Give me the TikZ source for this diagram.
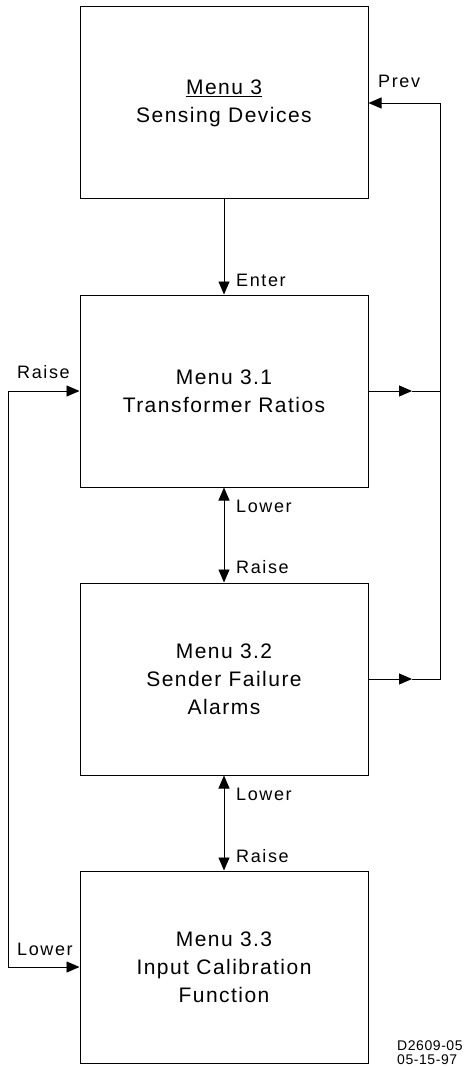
\documentclass[tikz,border=0pt]{standalone}
\usepackage{fontspec}
\setmainfont{Liberation Sans}
\newfontfamily\boxfont[LetterSpace=7]{Liberation Sans}
\newfontfamily\lblfont[LetterSpace=9]{Liberation Sans}
\newfontfamily\idfont[LetterSpace=4]{Liberation Sans}
\usetikzlibrary{arrows.meta}
\begin{document}
\begin{tikzpicture}[x=1pt,y=-1pt,
  menubox/.style={draw, line width=1pt, minimum width=288pt, minimum height=192pt,
    inner sep=0pt, align=center, font=\boxfont\fontsize{21}{28}\selectfont},
  lbl/.style={anchor=base west, inner sep=0pt, font=\lblfont\fontsize{18}{20}\selectfont},
  idlbl/.style={anchor=base west, inner sep=0pt, font=\idfont\fontsize{14}{15}\selectfont},
  conn/.style={line width=0.9pt},
  arr/.style={conn, -{Triangle[length=13pt,width=11pt]}},
  darr/.style={conn, {Triangle[length=13pt,width=11pt]}-{Triangle[length=13pt,width=11pt]}}]
\useasboundingbox (0,0) rectangle (467,1067);

\node[menubox] (b1) at (224,103) {\underline{Menu 3}\\Sensing Devices};
\node[menubox] (b2) at (224,391) {Menu 3.1\\Transformer Ratios};
\node[menubox] (b3) at (224,679) {Menu 3.2\\Sender Failure\\Alarms};
\node[menubox] (b4) at (224,967) {Menu 3.3\\Input Calibration\\Function};

% vertical connectors
\draw[arr] (b1.south) -- (b2.north);
\draw[darr] (b2.south) -- (b3.north);
\draw[darr] (b3.south) -- (b4.north);

% right bus
\coordinate (t2) at (412,391);
\coordinate (r2) at (440,391);
\coordinate (t3) at (412,679);
\coordinate (r3) at (440,679);
\draw[arr] (b2.east) -- (t2);
\draw[conn] (t2) -- (r2);
\draw[arr] (b3.east) -- (t3);
\draw[arr] (t3) -- (r3) |- (b1.east);

% left bus
\coordinate (l2) at (8,391);
\coordinate (l4) at (8,967);
\draw[darr] (b2.west) -- (l2) -- (l4) -- (b4.west);

% labels
\node[lbl] (lprev) at (378,88) {Prev};
\node[lbl] (lenter) at (236,286) {Enter};
\node[lbl] (lraise1) at (17,378) {Raise};
\node[lbl] (llower1) at (236,512) {Lower};
\node[lbl] (lraise2) at (236,573) {Raise};
\node[lbl] (llower2) at (236,800) {Lower};
\node[lbl] (lraise3) at (236,862) {Raise};
\node[lbl] (llower3) at (17,955) {Lower};

\node[idlbl] (id1) at (397,1050) {D2609-05};
\node[idlbl] (id2) at (397,1064) {05-15-97};
\end{tikzpicture}
\end{document}
